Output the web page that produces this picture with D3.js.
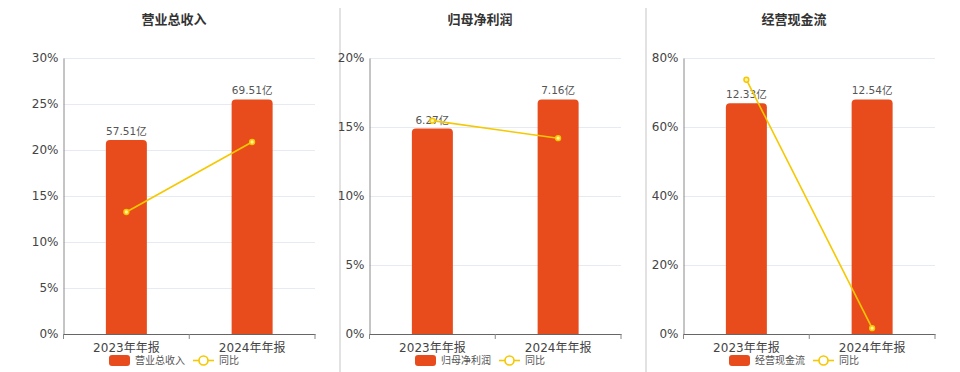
<!DOCTYPE html>
<html>
<head>
<meta charset="utf-8">
<script src="https://cdn.jsdelivr.net/npm/d3@7"></script>
<style>
  html, body { margin: 0; padding: 0; background: #fff; }
  svg { display: block; font-family: "DejaVu Sans", "Noto Sans CJK SC", sans-serif; }
</style>
</head>
<body>
<svg id="chart" width="960" height="372"></svg>
<script>
// ---- data ----
const categories = ["2023年年报", "2024年年报"];
const panelTitles = ["营业总收入", "归母净利润", "经营现金流"];
const revenue = [57.51, 69.51];
const revenueYoY = [13.26, 20.87];
const netProfit = [6.27, 7.16];
const netProfitYoY = [15.46, 14.19];
const cashFlow = [12.33, 12.54];
const cashFlowYoY = [73.7, 1.70];
const revenueTicks = [0, 5, 10, 15, 20, 25, 30];
const netProfitTicks = [0, 5, 10, 15, 20];
const cashFlowTicks = [0, 20, 40, 60, 80];
const yoyLabel = "同比";
const unitSuffix = "亿";

const panelsData = [
  { title: panelTitles[0], bars: revenue, yoy: revenueYoY, ticks: revenueTicks },
  { title: panelTitles[1], bars: netProfit, yoy: netProfitYoY, ticks: netProfitTicks },
  { title: panelTitles[2], bars: cashFlow, yoy: cashFlowYoY, ticks: cashFlowTicks }
];

// ---- layout ----
const layout = [
  { left: 63.5, right: 315, center: 174 },
  { left: 369.5, right: 621, center: 480 },
  { left: 683.5, right: 935, center: 794 }
];
const plotTop = 58, plotBottom = 334;
const barColor = "#E84C1D";
const lineColor = "#F5C800";
const gridColor = "#E6EAF2";

const svg = d3.select("#chart");

// separators
[340, 646].forEach(x => {
  svg.append("line").attr("x1", x).attr("x2", x).attr("y1", 8).attr("y2", 372)
    .attr("stroke", "#d9d9d9").attr("stroke-width", 1.5);
});

panelsData.forEach((p, i) => {
  const L = layout[i];
  const g = svg.append("g");

  const x = d3.scaleBand().domain(categories).range([L.left, L.right]);
  const yMax = p.ticks[p.ticks.length - 1];
  const y = d3.scaleLinear().domain([0, yMax]).range([plotBottom, plotTop]);
  const yBar = d3.scaleLinear().domain([0, d3.max(p.bars) / 0.85]).range([plotBottom, plotTop]);

  // title
  g.append("text").attr("x", L.center).attr("y", 24).attr("text-anchor", "middle")
    .attr("font-size", 13).attr("font-weight", "bold").attr("fill", "#333").text(p.title);

  // grid
  g.selectAll(".grid").data(p.ticks.filter(t => t > 0)).join("line")
    .attr("x1", L.left).attr("x2", L.right)
    .attr("y1", d => Math.round(y(d)) + 0.5).attr("y2", d => Math.round(y(d)) + 0.5)
    .attr("stroke", gridColor).attr("stroke-width", 1);

  // y axis
  const yAxis = d3.axisLeft(y).tickValues(p.ticks).tickSize(0).tickPadding(5)
    .tickFormat(d => d + "%");
  const ya = g.append("g").attr("transform", `translate(${L.left},0)`).call(yAxis);
  ya.select(".domain").attr("stroke", "#8a8a8a");
  ya.selectAll("text").attr("font-size", 12).attr("fill", "#444")
    .attr("font-family", "DejaVu Sans, sans-serif");

  // bars
  const bw = 41;
  const r = 4;
  const barPath = (d, k) => {
    const cx = x(categories[k]) + x.bandwidth() / 2;
    const x0 = cx - bw / 2, x1 = cx + bw / 2;
    const y0 = yBar(d), y1 = plotBottom;
    return `M${x0},${y1}V${y0 + r}Q${x0},${y0} ${x0 + r},${y0}H${x1 - r}Q${x1},${y0} ${x1},${y0 + r}V${y1}Z`;
  };
  g.selectAll(".bar").data(p.bars).join("path")
    .attr("d", (d, k) => barPath(d, k)).attr("fill", barColor);

  // bar labels
  g.selectAll(".blabel").data(p.bars).join("text")
    .attr("x", (d, k) => x(categories[k]) + x.bandwidth() / 2)
    .attr("y", d => yBar(d) - 5)
    .attr("text-anchor", "middle").attr("font-size", 10.5).attr("fill", "#555")
    .text(d => d.toFixed(2) + unitSuffix);

  // x axis
  const xAxis = d3.axisBottom(x).tickSize(0).tickPadding(9);
  const xa = g.append("g").attr("transform", `translate(0,${plotBottom})`).call(xAxis);
  xa.select(".domain").attr("stroke", "#666").attr("stroke-width", 1.2);
  xa.selectAll("text").attr("font-size", 12).attr("fill", "#444")
    .attr("font-family", "DejaVu Sans, Noto Sans CJK SC, sans-serif");
  // boundary ticks
  const bounds = [L.left, ...categories.map(c => x(c) + x.bandwidth())];
  g.selectAll(".xtick").data(bounds).join("line")
    .attr("x1", d => d).attr("x2", d => d).attr("y1", plotBottom).attr("y2", plotBottom + 5)
    .attr("stroke", "#888");

  // yoy line
  const line = d3.line()
    .x((d, k) => x(categories[k]) + x.bandwidth() / 2)
    .y(d => y(d));
  g.append("path").datum(p.yoy).attr("d", line).attr("fill", "none")
    .attr("stroke", lineColor).attr("stroke-width", 1.6);
  g.selectAll(".pt").data(p.yoy).join("circle")
    .attr("cx", (d, k) => x(categories[k]) + x.bandwidth() / 2)
    .attr("cy", d => y(d)).attr("r", 2.4)
    .attr("fill", "#FFF3A0").attr("stroke", lineColor).attr("stroke-width", 1.5);

  // legend
  const lx = L.center - 65, ly = 360.5;
  const lg = g.append("g");
  lg.append("rect").attr("x", lx).attr("y", ly - 5.5).attr("width", 21).attr("height", 11)
    .attr("rx", 3).attr("fill", barColor);
  lg.append("text").attr("x", lx + 26).attr("y", ly + 3.5).attr("font-size", 10)
    .attr("fill", "#555").text(p.title);
  lg.append("line").attr("x1", lx + 84).attr("x2", lx + 105).attr("y1", ly).attr("y2", ly)
    .attr("stroke", lineColor).attr("stroke-width", 1.6);
  lg.append("circle").attr("cx", lx + 94.5).attr("cy", ly).attr("r", 4.5)
    .attr("fill", "#fff").attr("stroke", lineColor).attr("stroke-width", 1.6);
  lg.append("text").attr("x", lx + 110).attr("y", ly + 3.5).attr("font-size", 10)
    .attr("fill", "#555").text(yoyLabel);
});
</script>
</body>
</html>
